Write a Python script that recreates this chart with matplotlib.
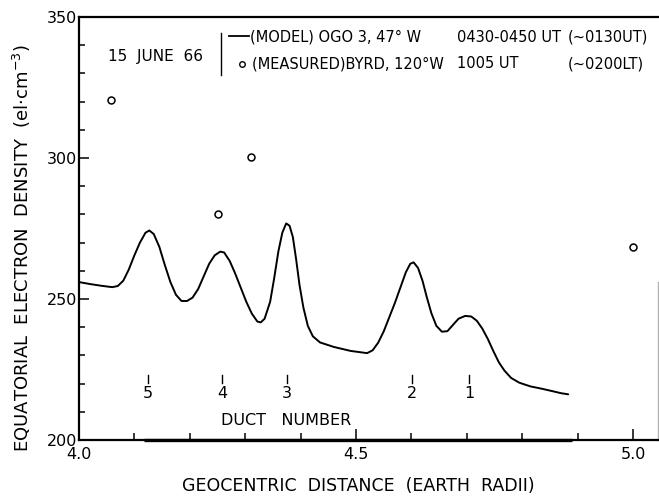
import matplotlib
matplotlib.use("Agg")
import matplotlib.pyplot as plt
from matplotlib.ticker import MultipleLocator, FixedLocator

plt.rcParams['font.family'] = ['DejaVu Sans']

# ---- data ----
model_x = [4.000, 4.020, 4.040, 4.060, 4.070, 4.080, 4.090, 4.100, 4.110, 4.120,
           4.127, 4.135, 4.145, 4.155, 4.165, 4.175, 4.185, 4.195, 4.205, 4.215,
           4.225, 4.235, 4.245, 4.255, 4.262, 4.272, 4.282, 4.292, 4.302, 4.312,
           4.322, 4.328, 4.335, 4.345, 4.352, 4.360, 4.367, 4.374, 4.380, 4.386,
           4.392, 4.398, 4.405, 4.413, 4.422, 4.435, 4.460, 4.490, 4.520, 4.530,
           4.540, 4.550, 4.560, 4.570, 4.580, 4.590, 4.598, 4.604, 4.612, 4.620,
           4.628, 4.636, 4.645, 4.655, 4.665, 4.675, 4.685, 4.697, 4.708, 4.718,
           4.728, 4.738, 4.748, 4.758, 4.768, 4.780, 4.795, 4.815, 4.835, 4.855,
           4.870, 4.883]
model_y = [256.0, 255.3, 254.7, 254.2, 254.6, 256.5, 260.5, 265.5, 270.0, 273.5,
           274.3, 273.0, 268.5, 262.0, 256.0, 251.5, 249.3, 249.3, 250.5, 253.5,
           258.0, 262.5, 265.5, 266.8, 266.5, 263.5, 259.0, 254.0, 249.0, 244.8,
           242.0, 241.7, 243.0, 249.0, 257.0, 267.0, 273.5, 276.8, 276.0, 272.0,
           264.0, 255.0, 247.0, 240.5, 236.8, 234.6, 233.0, 231.6, 230.8, 231.8,
           234.5, 238.5, 243.5, 248.5, 254.0, 259.5, 262.5, 263.0, 261.0, 256.5,
           250.5, 245.0, 240.5, 238.4, 238.6, 240.8, 243.0, 244.0, 243.8, 242.3,
           239.5, 235.8, 231.5, 227.5, 224.6, 222.0, 220.3, 219.0, 218.2, 217.3,
           216.6, 216.2]

measured_x = [4.058, 4.250, 4.310, 5.000]
measured_y = [320.5, 280.0, 300.5, 268.5]

duct_x = [4.125, 4.258, 4.375, 4.601, 4.704]
duct_labels = ['5', '4', '3', '2', '1']

x_ticklabels = ['4.0', '4.5', '5.0']
y_ticklabels = ['200', '250', '300', '350']

W, H = 659, 496
fig = plt.figure(figsize=(W / 100, H / 100), dpi=100)
ax = fig.add_axes([79 / W, (H - 440) / H, (658 - 79) / W, (440 - 17) / H])

ax.plot(model_x, model_y, color='black', lw=1.4, solid_capstyle='round',
        solid_joinstyle='round')
ax.plot(measured_x, measured_y, linestyle='none', marker='o', markersize=5,
        markerfacecolor='white', markeredgecolor='black', markeredgewidth=1.1,
        clip_on=False)

ax.set_xlim(4.0, 4.0 + (658 - 79) / 554)
ax.set_ylim(200, 350)

ax.xaxis.set_major_locator(FixedLocator([float(t) for t in x_ticklabels]))
ax.set_xticklabels(x_ticklabels)
ax.xaxis.set_minor_locator(MultipleLocator(0.1))
ax.yaxis.set_major_locator(FixedLocator([float(t) for t in y_ticklabels]))
ax.set_yticklabels(y_ticklabels)
ax.yaxis.set_minor_locator(MultipleLocator(10))

ax.tick_params(which='both', direction='in', top=False, right=False, width=1.1,
               labelsize=11.5)
ax.tick_params(axis='y', which='major', length=7.5, pad=1.5)
ax.tick_params(axis='y', which='minor', length=4.5)
ax.tick_params(axis='x', which='major', length=8, pad=5)
ax.tick_params(axis='x', which='minor', length=5)

for s in ['left', 'top', 'bottom']:
    ax.spines[s].set_linewidth(1.6)
ax.spines['right'].set_color('#b0b0b0')
ax.spines['right'].set_linewidth(1.0)
ax.spines['right'].set_bounds(200, 256)

# slightly heavier stroke along the bottom axis
ax.plot([4.118, 4.89], [200, 200], color='black', lw=2.4, clip_on=False,
        solid_capstyle='butt')

# duct markers
for dx, lab in zip(duct_x, duct_labels):
    ax.plot([dx, dx], [220.3, 223.0], color='black', lw=1.0)
    ax.text(dx, 216.6, lab, ha='center', va='center', fontsize=11.5)
ax.text(4.374, 207.0, 'DUCT   NUMBER', ha='center', va='center', fontsize=11.5)


def fx(px):
    return px / W


def fy(py):
    return (H - py) / H


fig.text(fx(22), fy(248), 'EQUATORIAL  ELECTRON  DENSITY  (el$\\cdot$cm$^{-3}$)',
         rotation=90, ha='center', va='center', fontsize=13)
fig.text(fx(358), fy(486), 'GEOCENTRIC  DISTANCE  (EARTH  RADII)',
         ha='center', va='center', fontsize=12.5)

# legend block
LFS = 10.5
fig.text(fx(108), fy(56), '15  JUNE  66', ha='left', va='center', fontsize=11)
fig.add_artist(plt.Line2D([fx(221), fx(221)], [fy(33), fy(75)], color='black',
                          lw=1.0, transform=fig.transFigure))
fig.add_artist(plt.Line2D([fx(229), fx(249)], [fy(36), fy(36)], color='black',
                          lw=1.3, transform=fig.transFigure))
fig.text(fx(250), fy(37), '(MODEL) OGO 3, 47° W', ha='left', va='center', fontsize=LFS)
fig.text(fx(457), fy(37), '0430-0450 UT', ha='left', va='center', fontsize=LFS)
fig.text(fx(568), fy(37), '(~0130UT)', ha='left', va='center', fontsize=LFS)
fig.add_artist(plt.Line2D([fx(242)], [fy(64)], marker='o', markersize=4,
                          markerfacecolor='white', markeredgecolor='black',
                          markeredgewidth=1.0, transform=fig.transFigure))
fig.text(fx(252), fy(64), '(MEASURED)BYRD, 120°W', ha='left', va='center', fontsize=LFS)
fig.text(fx(457), fy(64), '1005 UT', ha='left', va='center', fontsize=LFS)
fig.text(fx(568), fy(64), '(~0200LT)', ha='left', va='center', fontsize=LFS)

fig.savefig('out.png', dpi=100)
